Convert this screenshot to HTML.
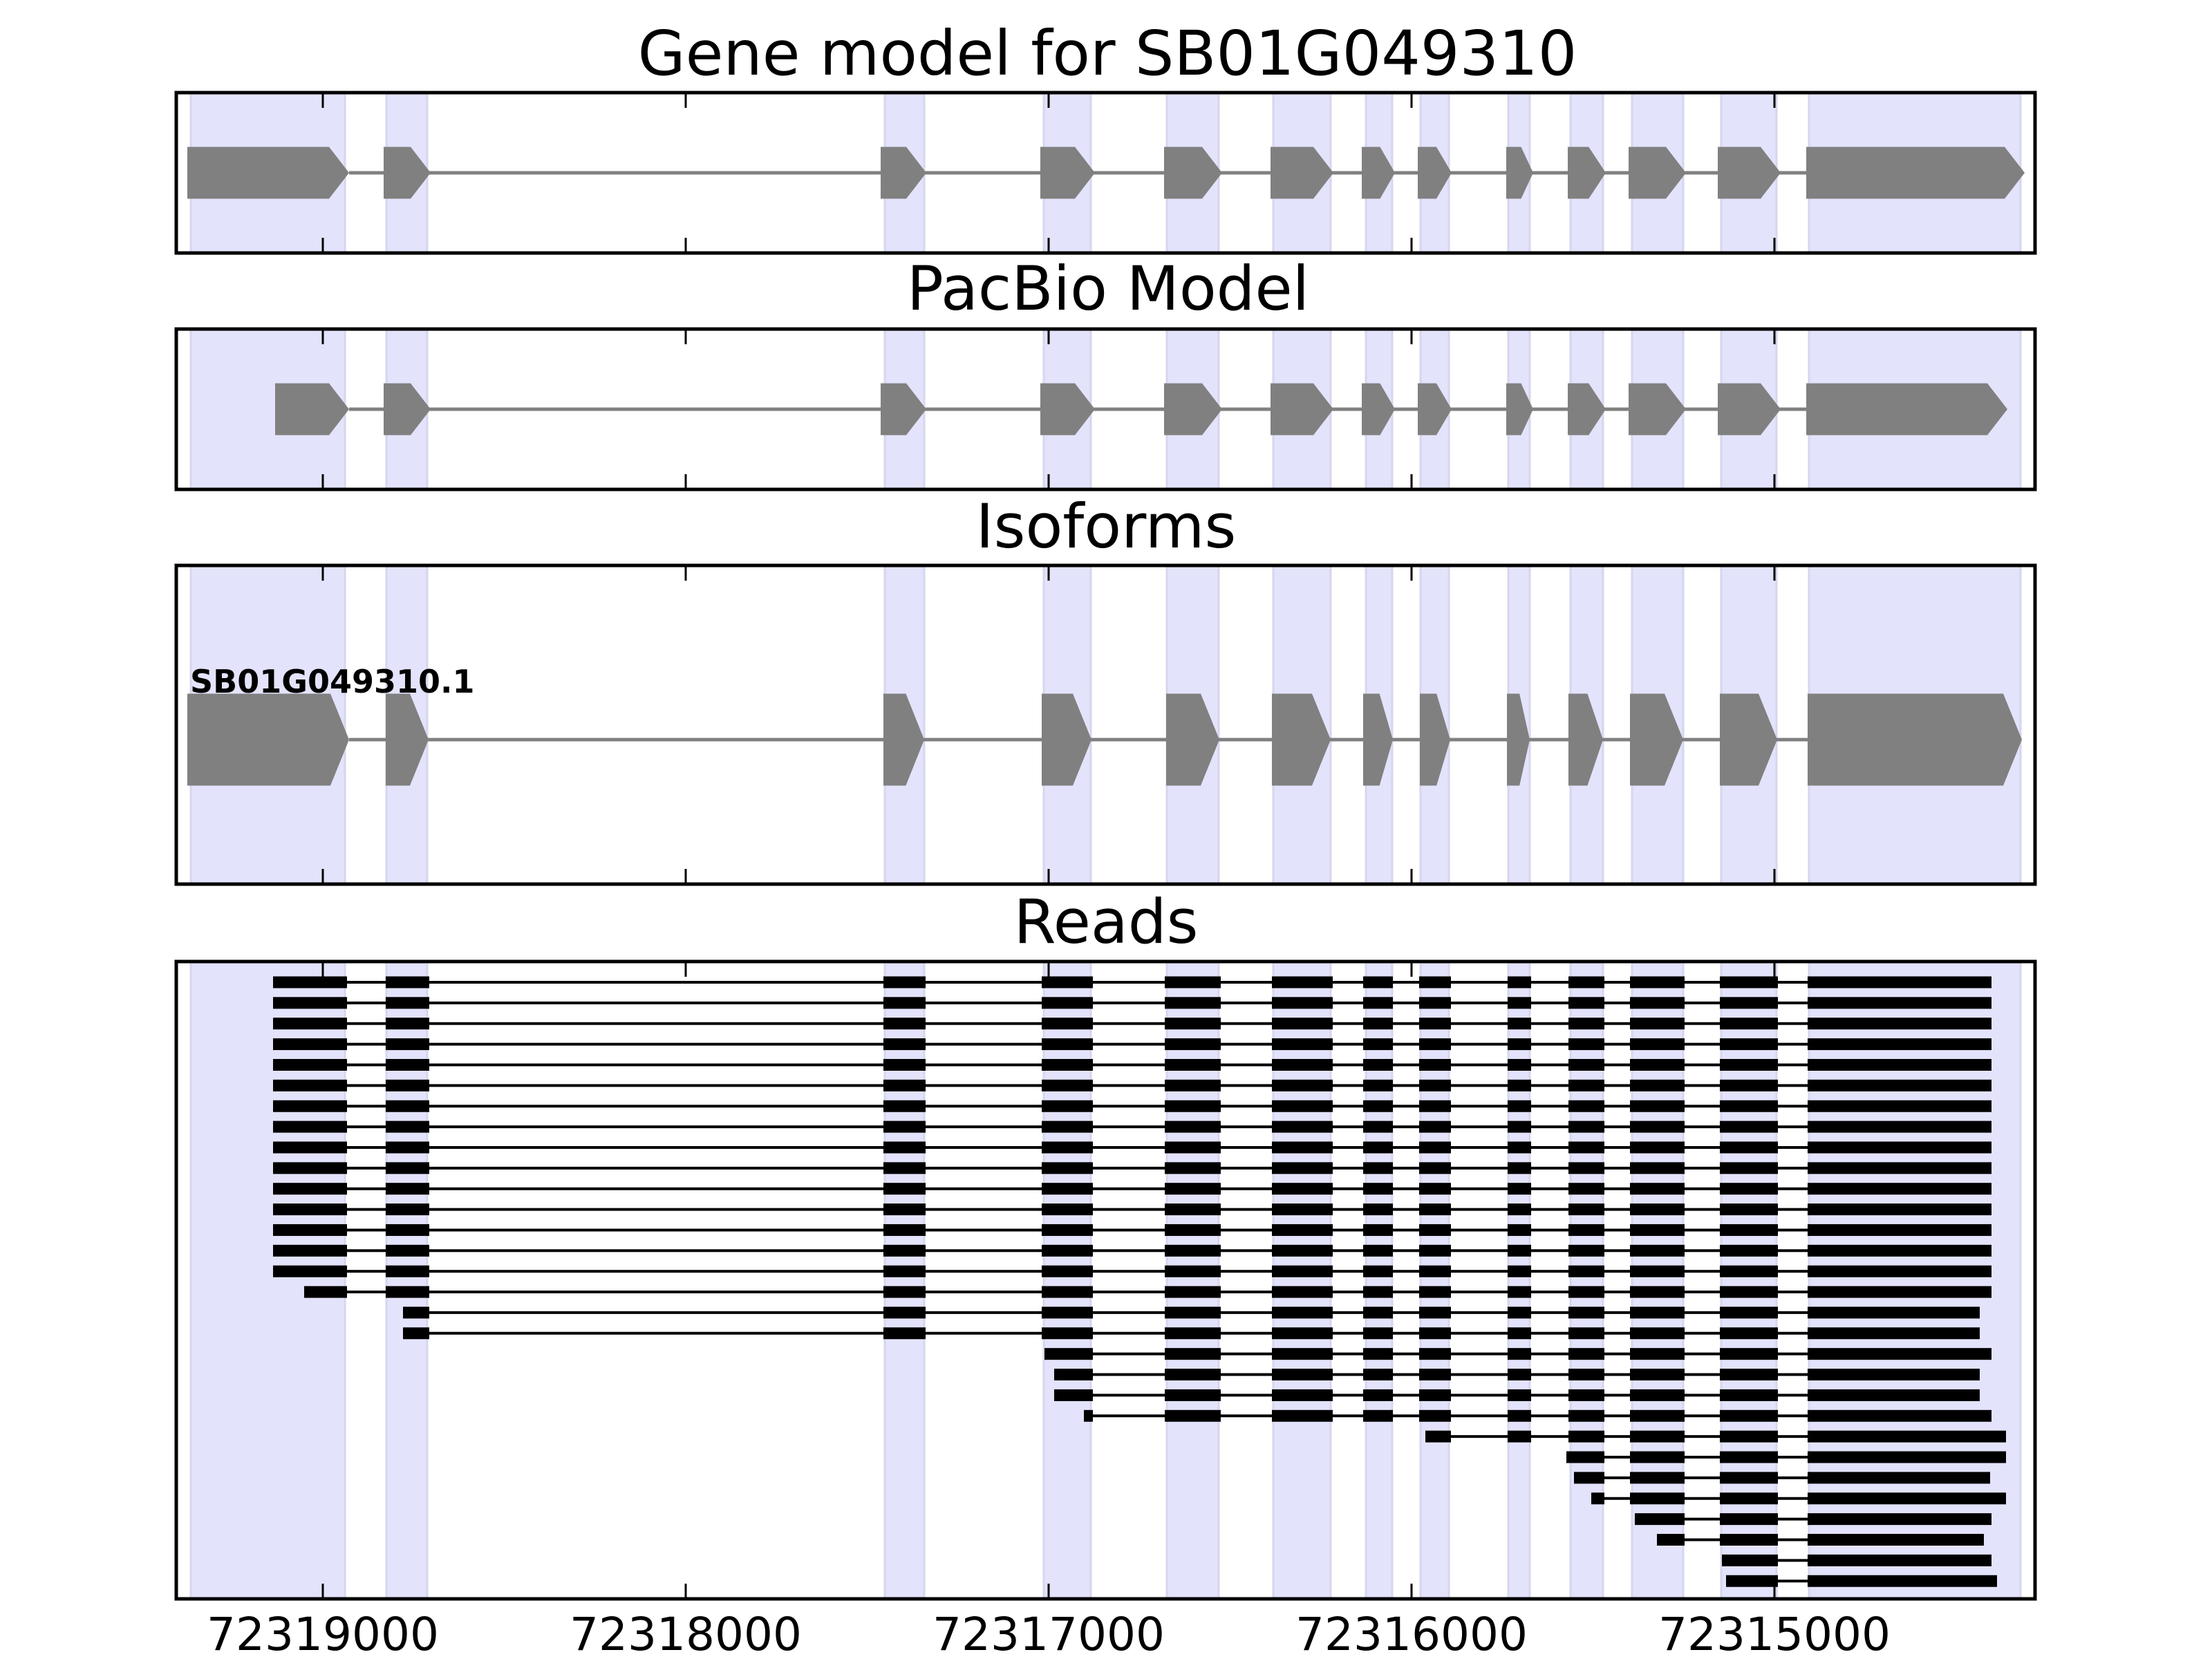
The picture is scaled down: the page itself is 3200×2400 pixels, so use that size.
<!DOCTYPE html>
<html><head><meta charset="utf-8"><style>
html,body{margin:0;padding:0;background:#fff;}
svg{display:block;}
text{font-family:"DejaVu Sans","Liberation Sans",sans-serif;fill:#000;}
</style></head><body>
<svg id="s" xmlns="http://www.w3.org/2000/svg" width="3200" height="2400" viewBox="0 0 3200 2400">
<rect width="3200" height="2400" fill="#fff"/>
<g id="g"></g>
<text x="1602" y="108" font-size="89" text-anchor="middle">Gene model for SB01G049310</text>
<text x="1603" y="448" font-size="88" text-anchor="middle">PacBio Model</text>
<text x="1600" y="792" font-size="88" text-anchor="middle">Isoforms</text>
<text x="1600" y="1364" font-size="88" text-anchor="middle">Reads</text>
<text x="275" y="1002" font-size="46" font-weight="bold">SB01G049310.1</text>
<text x="467" y="2387" font-size="66" text-anchor="middle">72319000</text>
<text x="992" y="2387" font-size="66" text-anchor="middle">72318000</text>
<text x="1517" y="2387" font-size="66" text-anchor="middle">72317000</text>
<text x="2042" y="2387" font-size="66" text-anchor="middle">72316000</text>
<text x="2567" y="2387" font-size="66" text-anchor="middle">72315000</text>
</svg>
<script>
(function(){
var g=document.getElementById('g'),h='';
var panels=[[134,366],[476,708],[818,1279],[1391,2313]];
var L=255,R=2944;
var shades=[[276,499],[559,618],[1280,1337],[1510,1578],[1688,1763],[1842,1925],[1976,2014],[2055,2096],[2182,2213],[2272,2319],[2361,2435],[2490,2570],[2617,2923]];
panels.forEach(function(p){
 shades.forEach(function(s){h+='<rect x="'+s[0]+'" y="'+p[0]+'" width="'+(s[1]-s[0])+'" height="'+(p[1]-p[0])+'" fill="#e3e3fc" stroke="#d6d6ee" stroke-width="3"/>';});
});
function exonPoly(x0,x1,cy,hh,amax){
 var w=x1-x0,a=Math.min(amax,w*0.45);
 return '<polygon points="'+x0+','+(cy-hh/2)+' '+(x1-a)+','+(cy-hh/2)+' '+x1+','+cy+' '+(x1-a)+','+(cy+hh/2)+' '+x0+','+(cy+hh/2)+'" fill="#808080"/>';
}
var gm=[[271,505],[555,623],[1274,1340],[1505,1584],[1684,1768],[1838,1929],[1970,2018],[2051,2100],[2179,2218],[2268,2323],[2356,2439],[2485,2576],[2613,2929]];
function model(ex,cy,hh,amax,lw){
 h+='<line x1="'+ex[0][1]+'" y1="'+cy+'" x2="'+ex[ex.length-1][0]+'" y2="'+cy+'" stroke="#808080" stroke-width="'+lw+'"/>';
 ex.forEach(function(e){h+=exonPoly(e[0],e[1],cy,hh,amax);});
}
model(gm,250,75,29,5);
var pb=gm.map(function(e){return e.slice();});pb[0][0]=398;pb[12][1]=2904;
model(pb,592,75,29,5);
var iso=[[271,505],[558,620],[1278,1337],[1507,1579],[1687,1764],[1840,1925],[1972,2015],[2054,2098],[2180,2213],[2269,2319],[2358,2435],[2488,2571],[2615,2925]];
model(iso,1070,133,27,5);
var cols=[[395,502],[558,621],[1278,1339],[1507,1581],[1685,1766],[1840,1928],[1972,2015],[2053,2099],[2181,2215],[2269,2321],[2358,2437],[2488,2572],[2615,2881]];
var rows=[];
for(var i=0;i<15;i++)rows.push([0,395,2881]);
rows.push([0,440,2881]);
rows.push([1,583,2864]);rows.push([1,583,2864]);
rows.push([3,1511,2881]);
rows.push([3,1525,2864]);rows.push([3,1525,2864]);
rows.push([3,1568,2881]);
rows.push([7,2062,2902]);
rows.push([9,2266,2902]);
rows.push([9,2277,2879]);
rows.push([9,2302,2902]);
rows.push([10,2365,2881]);
rows.push([10,2397,2870]);
rows.push([11,2491,2881]);
rows.push([11,2497,2889]);
rows.forEach(function(r,i){
 var y=1421+i*29.87,bh=17;
 h+='<line x1="'+r[1]+'" y1="'+y+'" x2="'+r[2]+'" y2="'+y+'" stroke="#000" stroke-width="4"/>';
 for(var c=r[0];c<13;c++){
  var x0=(c==r[0])?r[1]:cols[c][0],x1=(c==12)?r[2]:cols[c][1];
  h+='<rect x="'+x0+'" y="'+(y-bh/2)+'" width="'+(x1-x0)+'" height="'+bh+'" fill="#000"/>';
 }
});
var ticks=[467,992,1517,2042,2567];
panels.forEach(function(p){
 ticks.forEach(function(t){
  h+='<line x1="'+t+'" y1="'+p[0]+'" x2="'+t+'" y2="'+(p[0]+22)+'" stroke="#000" stroke-width="3"/>';
  h+='<line x1="'+t+'" y1="'+p[1]+'" x2="'+t+'" y2="'+(p[1]-22)+'" stroke="#000" stroke-width="3"/>';
 });
 h+='<rect x="'+L+'" y="'+p[0]+'" width="'+(R-L)+'" height="'+(p[1]-p[0])+'" fill="none" stroke="#000" stroke-width="5"/>';
});
g.innerHTML=h;
})();
</script>
</body></html>
